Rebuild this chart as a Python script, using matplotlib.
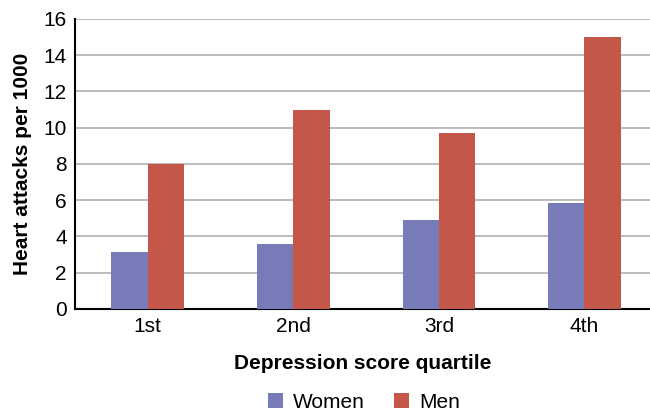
import matplotlib
matplotlib.use('Agg')
import matplotlib.pyplot as plt
import numpy as np

plt.rcParams['font.family'] = ['Liberation Sans', 'DejaVu Sans']

quartiles = ['1st', '2nd', '3rd', '4th']
women = [3.15, 3.6, 4.9, 5.85]
men = [8.0, 11.0, 9.7, 15.0]

fig = plt.figure(figsize=(6.5, 4.12), dpi=100)
ax = fig.add_axes([0.1154, 0.25, 0.8846, 0.7039])

x = np.arange(len(quartiles))
w = 0.25
ax.bar(x - w / 2, women, w, color='#777BB8', label='Women', zorder=3)
ax.bar(x + w / 2, men, w, color='#C5564A', label='Men', zorder=3)

ax.set_xlim(-0.5, 3.45)
ax.set_ylim(0, 16)
ax.set_yticks(range(0, 17, 2))
ax.set_xticks(x)
ax.set_xticklabels(quartiles)
ax.tick_params(axis='both', labelsize=15, length=0, pad=6)
ax.yaxis.grid(True, color='#b0b0b0', linewidth=1.2, zorder=0)

for s in ['top', 'right']:
    ax.spines[s].set_visible(False)
ax.spines['left'].set_color('black')
ax.spines['bottom'].set_color('black')
ax.spines['left'].set_linewidth(1.5)
ax.spines['bottom'].set_linewidth(1.5)

ax.set_ylabel('Heart attacks per 1000', fontsize=15, fontweight='bold', labelpad=8)
ax.set_xlabel('Depression score quartile', fontsize=15, fontweight='bold', labelpad=13)

fig.legend(loc='lower center', bbox_to_anchor=(0.56, -0.045), ncol=2, frameon=False,
           fontsize=15, handlelength=0.7, handleheight=0.7, columnspacing=1.4,
           handletextpad=0.5)

fig.savefig('out.png', dpi=100)
